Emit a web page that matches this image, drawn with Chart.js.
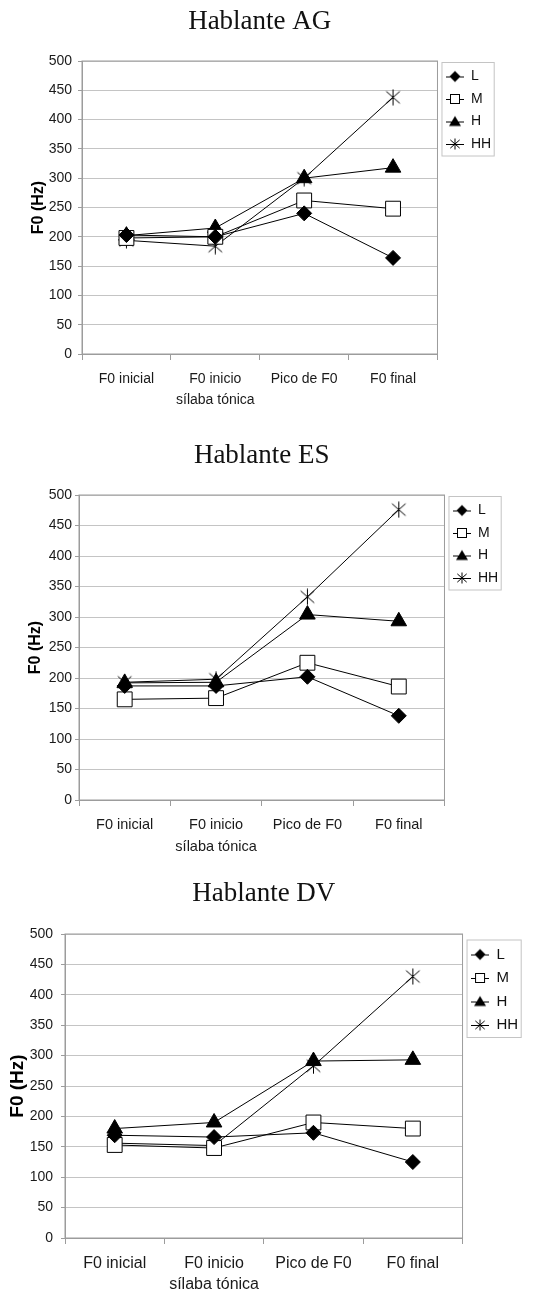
<!DOCTYPE html>
<html>
<head>
<meta charset="utf-8">
<script src="https://cdn.jsdelivr.net/npm/chart.js"></script>
<style>
    html, body { margin: 0; padding: 0; background: #fff; overflow: hidden; }
    .chart-box { position: absolute; left: 0; width: 555px; }
    #boxAG { top: 0; height: 420px; }
    #boxES { top: 420px; height: 440px; }
    #boxDV { top: 860px; height: 440px; }
</style>
</head>
<body>
<div class="chart-box" id="boxAG"><canvas id="chartAG"></canvas></div>
<div class="chart-box" id="boxES"><canvas id="chartES"></canvas></div>
<div class="chart-box" id="boxDV"><canvas id="chartDV"></canvas></div>

<script>
// Categories and values (F0 in Hz)
const categories = ['F0 inicial', ['F0 inicio', 'sílaba tónica'], 'Pico de F0', 'F0 final'];
const seriesNames = ['L', 'M', 'H', 'HH'];
const yMin = 0;
const yMax = 500;
const yStep = 50;

// Hablante AG
const agL = [203, 200, 240, 164];
const agM = [198, 200, 262, 248];
const agH = [202, 215, 300, 318];
const agHH = [194, 184, 300, 438];

// Hablante ES
const esL = [187, 187, 202, 138];
const esM = [165, 167, 225, 186];
const esH = [192, 193, 304, 293];
const esHH = [193, 198, 333, 476];

// Hablante DV
const dvL = [169, 166, 173, 125];
const dvM = [153, 148, 190, 180];
const dvH = [180, 190, 291, 293];
const dvHH = [156, 152, 283, 430];

// Asterisk (X plus vertical bar)
function drawAsterisk(g, cx, cy, r) {
    g.beginPath();
    g.moveTo(cx, cy - r);
    g.lineTo(cx, cy + r);
    g.moveTo(cx - r * 0.85, cy - r * 0.75);
    g.lineTo(cx + r * 0.85, cy + r * 0.75);
    g.moveTo(cx + r * 0.85, cy - r * 0.75);
    g.lineTo(cx - r * 0.85, cy + r * 0.75);
    g.stroke();
}

function makeAsterisk(size) {
    const c = document.createElement('canvas');
    c.width = size;
    c.height = size;
    const g = c.getContext('2d');
    g.strokeStyle = '#000';
    g.lineWidth = 1;
    drawAsterisk(g, size / 2, size / 2, size / 2 - 0.5);
    return c;
}

// Legend swatch: short line with the series marker on it
function makeSwatch(kind) {
    const c = document.createElement('canvas');
    c.width = 18;
    c.height = 14;
    const g = c.getContext('2d');
    const cx = 9, cy = 7;
    g.strokeStyle = '#000';
    g.fillStyle = '#000';
    g.lineWidth = 1;
    g.beginPath();
    g.moveTo(0, cy + 0.5);
    g.lineTo(18, cy + 0.5);
    g.stroke();
    if (kind === 'L') {
        g.beginPath();
        g.moveTo(cx, cy - 5.5); g.lineTo(cx + 5.5, cy); g.lineTo(cx, cy + 5.5); g.lineTo(cx - 5.5, cy);
        g.closePath(); g.fill();
    } else if (kind === 'M') {
        g.fillStyle = '#fff';
        g.fillRect(cx - 4.5, cy - 4.5, 9, 9);
        g.strokeRect(cx - 4.5, cy - 4.5, 9, 9);
    } else if (kind === 'H') {
        g.beginPath();
        g.moveTo(cx, cy - 5.5); g.lineTo(cx + 6, cy + 4.5); g.lineTo(cx - 6, cy + 4.5);
        g.closePath(); g.fill();
    } else {
        drawAsterisk(g, cx, cy, 5.5);
    }
    return c;
}

const starBig = makeAsterisk(17);
const swatches = {};
seriesNames.forEach(n => { swatches[n] = makeSwatch(n); });

// Plot frame and the box round the legend
const frameAndLegend = {
    id: 'frameAndLegend',
    afterDraw(chart) {
        const ctx = chart.ctx;
        const a = chart.chartArea;
        ctx.save();
        ctx.strokeStyle = '#9c9c9c';
        ctx.lineWidth = 1;
        ctx.strokeRect(a.left, a.top, a.right - a.left, a.bottom - a.top);

        const hbs = chart.legend.legendHitBoxes;
        const first = hbs[0];
        const last = hbs[hbs.length - 1];
        let right = 0;
        hbs.forEach(hb => { right = Math.max(right, hb.left + hb.width); });
        const x0 = first.left - 4;
        const y0 = first.top - 7;
        ctx.strokeStyle = '#c4c4c4';
        ctx.strokeRect(x0, y0, right + 3 - x0, last.top + last.height + 5 - y0);
        ctx.restore();
    }
};

function buildDatasets(l, m, h, hh) {
    const base = {
        borderColor: '#000',
        borderWidth: 1,
        pointBorderColor: '#000',
        pointBorderWidth: 1,
        tension: 0
    };
    return [
        Object.assign({}, base, { label: seriesNames[0], data: l, pointStyle: 'rectRot', pointRadius: 7.5, pointBackgroundColor: '#000' }),
        Object.assign({}, base, { label: seriesNames[1], data: m, pointStyle: 'rect', pointRadius: 10.5, pointBackgroundColor: '#fff' }),
        Object.assign({}, base, { label: seriesNames[2], data: h, pointStyle: 'triangle', pointRadius: 9, pointBackgroundColor: '#000' }),
        Object.assign({}, base, { label: seriesNames[3], data: hh, pointStyle: starBig, pointRadius: 8, pointBackgroundColor: '#000' })
    ];
}

function makeChart(canvasId, title, datasets, lay) {
    const ctx = document.getElementById(canvasId).getContext('2d');
    return new Chart(ctx, {
        type: 'line',
        data: { labels: categories, datasets: datasets },
        plugins: [frameAndLegend],
        options: {
            responsive: true,
            maintainAspectRatio: false,
            animation: false,
            layout: {
                padding: { left: lay.padLeft, right: lay.padRight, top: 0, bottom: lay.padBottom }
            },
            plugins: {
                tooltip: { enabled: false },
                title: {
                    display: true,
                    text: title,
                    fullSize: false,
                    color: '#111',
                    font: { family: 'Liberation Serif', size: 27, weight: 'normal' },
                    padding: { top: lay.titleTop, bottom: lay.titleBottom }
                },
                legend: {
                    position: 'right',
                    align: 'start',
                    fullSize: false,
                    title: {
                        display: lay.legendShift > 0,
                        text: '',
                        font: { size: 1 },
                        padding: { top: 0, bottom: lay.legendShift }
                    },
                    labels: {
                        usePointStyle: true,
                        pointStyleWidth: 18,
                        boxHeight: 8,
                        padding: 8.5,
                        color: '#111',
                        font: { family: 'Liberation Sans', size: lay.legendFont },
                        generateLabels: (chart) => {
                            const items = Chart.defaults.plugins.legend.labels.generateLabels(chart);
                            items.forEach(it => { it.pointStyle = swatches[it.text]; });
                            return items;
                        }
                    }
                }
            },
            scales: {
                x: {
                    offset: true,
                    afterFit: (axis) => { axis.height = 60; },
                    grid: {
                        drawOnChartArea: false,
                        drawTicks: true,
                        tickLength: 6,
                        offset: true,
                        color: '#9c9c9c'
                    },
                    border: { color: '#9c9c9c' },
                    ticks: {
                        autoSkip: false,
                        maxRotation: 0,
                        padding: lay.xPad,
                        color: '#1a1a1a',
                        font: { family: 'Liberation Sans', size: lay.xFont, lineHeight: lay.xLine }
                    }
                },
                y: {
                    min: yMin,
                    max: yMax,
                    afterFit: (axis) => { axis.width = lay.axisWidth; },
                    grid: {
                        color: '#c4c4c4',
                        tickLength: 4,
                        tickColor: '#9c9c9c'
                    },
                    border: { color: '#9c9c9c' },
                    ticks: {
                        stepSize: yStep,
                        padding: lay.yPad,
                        color: '#1a1a1a',
                        font: { family: 'Liberation Sans', size: 14 }
                    },
                    title: {
                        display: true,
                        text: 'F0 (Hz)',
                        color: '#000',
                        padding: { top: 0, bottom: 0 },
                        font: { family: 'Liberation Sans', size: lay.yTitleFont, weight: 'bold' }
                    }
                }
            }
        }
    });
}

document.addEventListener('DOMContentLoaded', () => {
    makeChart('chartAG', 'Hablante AG', buildDatasets(agL, agM, agH, agHH), {
        padLeft: 29, axisWidth: 53, padRight: 53.8, padBottom: 6,
        titleTop: 6, titleBottom: 22.6, legendShift: 0, legendFont: 14,
        xFont: 14, xLine: 1.5, xPad: 8.5, yPad: 6, yTitleFont: 16
    });

    makeChart('chartES', 'Hablante ES', buildDatasets(esL, esM, esH, esHH), {
        padLeft: 26, axisWidth: 53, padRight: 46.8, padBottom: 0,
        titleTop: 20, titleBottom: 22.6, legendShift: 0, legendFont: 14,
        xFont: 14.5, xLine: 1.5, xPad: 8, yPad: 3, yTitleFont: 16
    });

    makeChart('chartDV', 'Hablante DV', buildDatasets(dvL, dvM, dvH, dvHH), {
        padLeft: 6, axisWidth: 59, padRight: 26.8, padBottom: 2,
        titleTop: 18, titleBottom: 23.6, legendShift: 3.3, legendFont: 15,
        xFont: 16, xLine: 1.3, xPad: 9.6, yPad: 8, yTitleFont: 19
    });
});
</script>
</body>
</html>
